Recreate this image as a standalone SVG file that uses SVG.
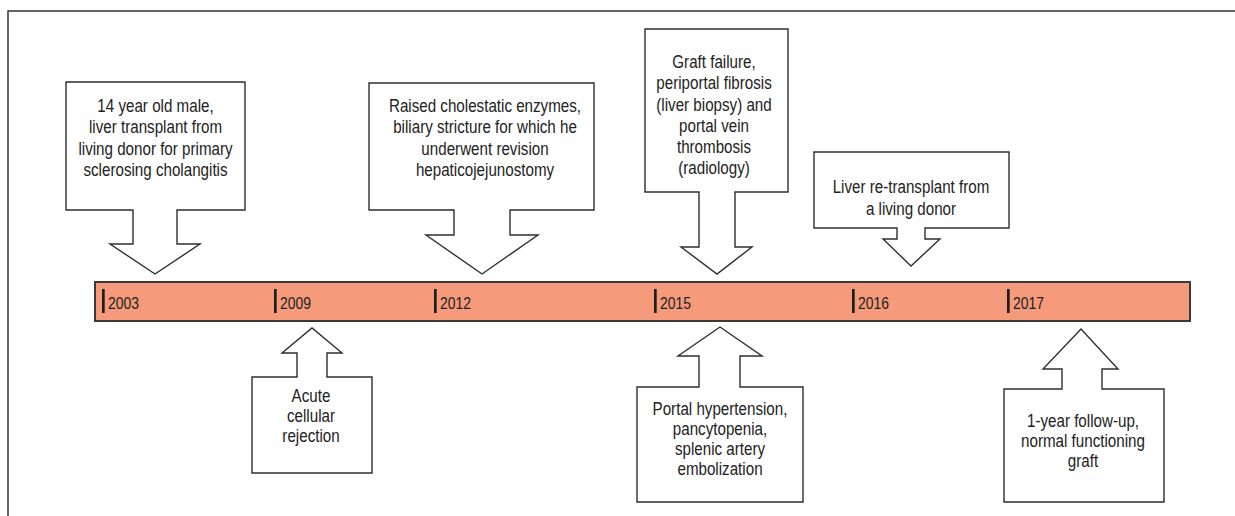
<svg xmlns="http://www.w3.org/2000/svg" width="1235" height="516" viewBox="0 0 1235 516">
  <style>
    .frame { fill: none; stroke: #333; stroke-width: 1.5; }
    .bar { fill: #F59A7B; stroke: #3a3a3a; stroke-width: 2; }
    .tick { fill: #1e1e1e; }
    .callout { fill: #fff; stroke: #2e2e2e; stroke-width: 1.4; stroke-linejoin: miter; }
    .t { font-family: "Liberation Sans", Arial, sans-serif; font-size: 18.5px; fill: #222; text-anchor: middle; }
    .yr { font-family: "Liberation Sans", Arial, sans-serif; font-size: 17px; fill: #222; }
  </style>
  <rect width="1235" height="516" fill="#fff"/>
  <rect class="frame" x="8" y="11" width="1240" height="520"/>

  <g id="timeline">
    <rect class="bar" x="95" y="282" width="1095" height="39"/>
    <rect class="tick" x="102" y="289" width="2.7" height="24"/>
    <text class="yr" transform="translate(108 309) scale(0.82 1)">2003</text>
    <rect class="tick" x="274" y="289" width="2.7" height="24"/>
    <text class="yr" transform="translate(280 309) scale(0.82 1)">2009</text>
    <rect class="tick" x="434" y="289" width="2.7" height="24"/>
    <text class="yr" transform="translate(440 309) scale(0.82 1)">2012</text>
    <rect class="tick" x="654" y="289" width="2.7" height="24"/>
    <text class="yr" transform="translate(660 309) scale(0.82 1)">2015</text>
    <rect class="tick" x="852" y="289" width="2.7" height="24"/>
    <text class="yr" transform="translate(858 309) scale(0.82 1)">2016</text>
    <rect class="tick" x="1007" y="289" width="2.7" height="24"/>
    <text class="yr" transform="translate(1013 309) scale(0.82 1)">2017</text>
  </g>

  <g id="connectors"></g>

  <g id="event-2003">
    <path class="callout" d="M66,82 H245 V210 H177 V244 H200 L155,274 L110,244 H133 V210 H66 Z"/>
    <g transform="translate(155.5 0) scale(0.82 1)">
      <text class="t" x="0" y="112">14 year old male,</text>
      <text class="t" x="0" y="133.5">liver transplant from</text>
      <text class="t" x="0" y="155">living donor for primary</text>
      <text class="t" x="0" y="176">sclerosing cholangitis</text>
    </g>
  </g>

  <g id="event-2012">
    <path class="callout" d="M369,83 H594 V210 H510 V235 H538 L482,274 L426,235 H454 V210 H369 Z"/>
    <g transform="translate(485 0) scale(0.82 1)">
      <text class="t" x="0" y="112">Raised cholestatic enzymes,</text>
      <text class="t" x="0" y="133.5">biliary stricture for which he</text>
      <text class="t" x="0" y="155">underwent revision</text>
      <text class="t" x="0" y="176">hepaticojejunostomy</text>
    </g>
  </g>

  <g id="event-2015-top">
    <path class="callout" d="M645,29 H788 V192 H735 V247 H752 L717,274 L681,247 H699 V192 H645 Z"/>
    <g transform="translate(714 0) scale(0.82 1)">
      <text class="t" x="0" y="68">Graft failure,</text>
      <text class="t" x="0" y="89.5">periportal fibrosis</text>
      <text class="t" x="0" y="111">(liver biopsy) and</text>
      <text class="t" x="0" y="132">portal vein</text>
      <text class="t" x="0" y="153">thrombosis</text>
      <text class="t" x="0" y="174">(radiology)</text>
    </g>
  </g>

  <g id="event-2016">
    <path class="callout" d="M814,152 H1009 V228 H925 V239 H940 L911,266 L883,239 H897 V228 H814 Z"/>
    <g transform="translate(911 0) scale(0.82 1)">
      <text class="t" x="0" y="193">Liver re-transplant from</text>
      <text class="t" x="0" y="215">a living donor</text>
    </g>
  </g>

  <g id="event-2009">
    <path class="callout" d="M252,377 H297 V353 H282 L312,328 L342,353 H327 V377 H372 V473 H252 Z"/>
    <g transform="translate(311 0) scale(0.82 1)">
      <text class="t" x="0" y="402">Acute</text>
      <text class="t" x="0" y="422">cellular</text>
      <text class="t" x="0" y="442">rejection</text>
    </g>
  </g>

  <g id="event-2015-bottom">
    <path class="callout" d="M637,387 H699 V356 H678 L720,327 L762,356 H740 V387 H803 V502 H637 Z"/>
    <g transform="translate(720 0) scale(0.82 1)">
      <text class="t" x="0" y="415">Portal hypertension,</text>
      <text class="t" x="0" y="435">pancytopenia,</text>
      <text class="t" x="0" y="455">splenic artery</text>
      <text class="t" x="0" y="475">embolization</text>
    </g>
  </g>

  <g id="event-2017">
    <path class="callout" d="M1004,389 H1062 V369 H1043 L1081,329 L1118,369 H1102 V389 H1164 V502 H1004 Z"/>
    <g transform="translate(1083 0) scale(0.82 1)">
      <text class="t" x="0" y="427">1-year follow-up,</text>
      <text class="t" x="0" y="447">normal functioning</text>
      <text class="t" x="0" y="467">graft</text>
    </g>
  </g>
</svg>
